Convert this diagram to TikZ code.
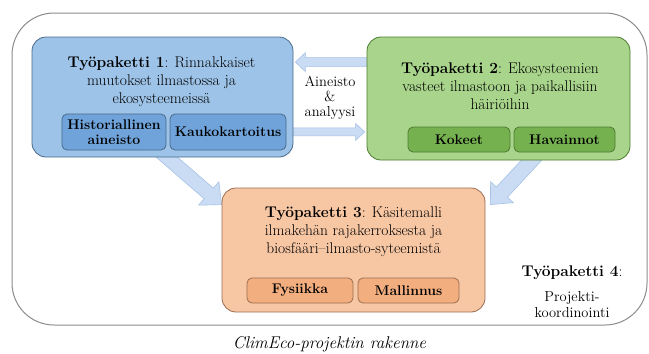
\documentclass[tikz,border=0pt]{standalone}
\usepackage{fontspec}
\usetikzlibrary{calc}
\pgfdeclarelayer{bg}
\pgfsetlayers{bg,main}
\definecolor{bluemain}{HTML}{9DC3E8}
\definecolor{bluesub}{HTML}{6FA3DA}
\definecolor{blueline}{HTML}{4A6B8A}
\definecolor{greenmain}{HTML}{A8D58B}
\definecolor{greensub}{HTML}{75B14F}
\definecolor{greenline}{HTML}{4E7B30}
\definecolor{orangemain}{HTML}{F7C6A3}
\definecolor{orangesub}{HTML}{F2AE7E}
\definecolor{orangeline}{HTML}{9C6E52}
\definecolor{arrowfill}{HTML}{C9DCF3}
\definecolor{arrowline}{HTML}{A7C2E6}
\definecolor{framegray}{HTML}{8C8C8C}
\newcommand\blockarr[5]{%
  \coordinate (hb) at ($(#2)!#5!(#1)$);
  \draw[blockarrow] ($(#1)!#3!90:(#2)$) -- ($(hb)!#3!90:(#2)$) -- ($(hb)!#4!90:(#2)$)
    -- (#2) -- ($(hb)!#4!-90:(#2)$) -- ($(hb)!#3!-90:(#2)$) -- ($(#1)!#3!-90:(#2)$) -- cycle;
}
\tikzset{
  mainbox/.style={rectangle, rounded corners=14pt, line width=0.8pt, inner sep=0pt},
  subbox/.style={rectangle, rounded corners=5pt, line width=0.8pt, inner sep=0pt,
    font=\fontsize{14}{14.5}\selectfont\bfseries, align=center},
  titletext/.style={align=center, inner sep=0pt, font=\fontsize{15.5}{18}\selectfont},
  plaintext/.style={align=center, inner sep=0pt, font=\fontsize{14.5}{15}\selectfont},
  frame/.style={rectangle, rounded corners=42pt, draw=framegray, line width=1pt, fill=white, inner sep=0pt},
  blockarrow/.style={fill=arrowfill, draw=arrowline, line width=0.6pt, line join=miter}
}
\begin{document}
\begin{tikzpicture}[x=1pt, y=-1pt]
\useasboundingbox (0,0) rectangle (649,354);

% work package 1
\node[mainbox, fill=bluemain, draw=blueline, minimum width=261pt, minimum height=120pt] (b1) at (162.5,97) {};
\node[titletext] (t1) at ($(b1.north)+(-1,45)$) {\textbf{Työpaketti 1}: Rinnakkaiset\\muutokset ilmastossa ja\\ekosysteemeissä};
\node[subbox, fill=bluesub, draw=blueline, minimum width=104pt, minimum height=36pt] (s11) at (114,132) {Historiallinen\\aineisto};
\node[subbox, fill=bluesub, draw=blueline, minimum width=116pt, minimum height=36pt] (s12) at (228,132) {Kaukokartoitus};

% work package 2
\node[mainbox, fill=greenmain, draw=greenline, minimum width=263pt, minimum height=123pt] (b2) at (498.5,98.5) {};
\node[titletext] (t2) at ($(b2.north)+(1.5,50)$) {\textbf{Työpaketti 2}: Ekosysteemien\\vasteet ilmastoon ja paikallisiin\\häiriöihin};
\node[subbox, fill=greensub, draw=greenline, minimum width=102pt, minimum height=25pt] (s21) at (459,139.5) {Kokeet};
\node[subbox, fill=greensub, draw=greenline, minimum width=101pt, minimum height=25pt] (s22) at (564.5,139.5) {Havainnot};

% work package 3
\node[mainbox, fill=orangemain, draw=orangeline, minimum width=263pt, minimum height=124pt] (b3) at (353.5,250) {};
\node[titletext] (t3) at ($(b3.north)+(0,44)$) {\textbf{Työpaketti 3}: Käsitemalli\\ilmakehän rajakerroksesta ja\\biosfääri--ilmasto-syteemistä};
\node[subbox, fill=orangesub, draw=orangeline, minimum width=106pt, minimum height=25pt] (s31) at (300,290.5) {Fysiikka};
\node[subbox, fill=orangesub, draw=orangeline, minimum width=101pt, minimum height=25pt] (s32) at (408.5,290.5) {Mallinnus};

% middle label
\node[plaintext] (aa) at (330,98) {Aineisto\\\&\\analyysi};

% work package 4
\node[inner sep=0pt, font=\fontsize{15.5}{18}\selectfont] (t4) at (572,273) {\textbf{Työpaketti 4}:};
\node[plaintext, font=\fontsize{14.5}{16}\selectfont] (t4b) at (572,305) {Projekti-\\koordinointi};

% caption
\node[inner sep=0pt, font=\fontsize{17}{20}\selectfont\itshape] (cap) at (329.5,344) {ClimEco-projektin rakenne};

\begin{pgfonlayer}{bg}
  \node[frame, minimum width=635pt, minimum height=312pt] (fr) at (329.5,169) {};
  \coordinate (a1s) at ($(b2.north west)+(5,25.5)$);
  \coordinate (a1e) at ($(b1.north east)+(2,25.5)$);
  \blockarr{a1s}{a1e}{4.5pt}{9.5pt}{10pt}
  \coordinate (a2s) at ($(b1.south east)+(-5,-25.5)$);
  \coordinate (a2e) at ($(b2.south west)+(-2,-28.5)$);
  \blockarr{a2s}{a2e}{4pt}{8.5pt}{9pt}
  \coordinate (a3s) at ($(b1.south)+(-3,-6.6)$);
  \coordinate (a3e) at ($(b3.north west)+(0,17)$);
  \blockarr{a3s}{a3e}{7pt}{15.5pt}{17pt}
  \coordinate (a4s) at ($(b2.south)+(39.7,-7.4)$);
  \coordinate (a4e) at ($(b3.north east)+(5,17)$);
  \blockarr{a4s}{a4e}{7.5pt}{15.5pt}{17pt}
\end{pgfonlayer}
\end{tikzpicture}
\end{document}
